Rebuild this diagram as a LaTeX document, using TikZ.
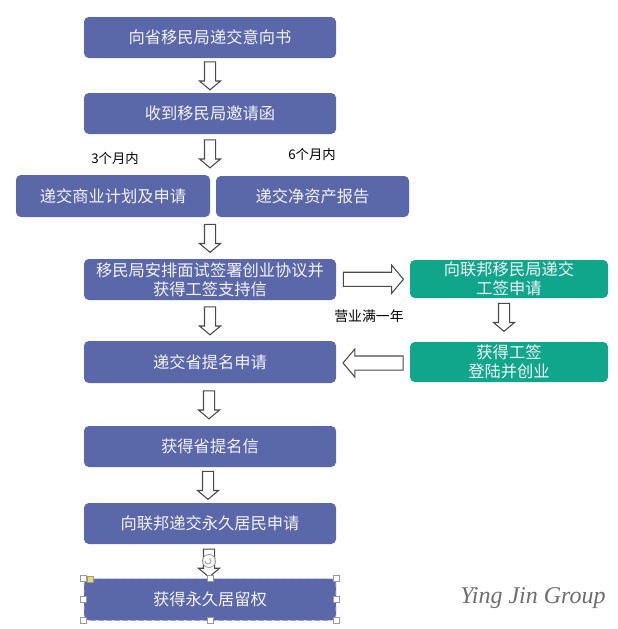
\documentclass[tikz,border=0pt]{standalone}
\usepackage{fontspec}
\setmainfont{Noto Sans CJK SC}
\newfontfamily\logofont{Liberation Serif}
\usetikzlibrary{shapes.arrows,calc}
\definecolor{boxblue}{HTML}{5A67A8}
\definecolor{boxgreen}{HTML}{0FA68B}
\definecolor{arrowline}{HTML}{4A4A4A}
\definecolor{handleline}{HTML}{9A9A9A}
\definecolor{handleyellow}{HTML}{EFD95A}
\definecolor{logogray}{HTML}{6E6E70}
\tikzset{
  x=0.75pt,y=-0.75pt,
  flowbox/.style n args={3}{draw=none,fill=#3,rounded corners=3.6pt,inner sep=0pt,
    minimum width=#1*0.75pt,minimum height=#2*0.75pt,text=white!93!boxblue,
    font=\fontsize{12.2pt}{14.3pt}\selectfont,align=center},
  blockarrow/.style={single arrow,draw=arrowline,fill=white,line width=0.8pt,inner sep=0pt,
    text height=10*0.75pt,text depth=0pt,text width=0pt,
    single arrow head extend=5*0.75pt,single arrow tip angle=100,
    anchor=center},
  downarrow/.style={blockarrow,rotate=-90,minimum height=28*0.75pt},
  sidearrow/.style={blockarrow,text height=13*0.75pt,single arrow head extend=7*0.75pt,minimum height=60*0.75pt},
  note/.style={inner sep=0pt,text=black,font=\fontsize{10pt}{12pt}\selectfont},
  handle/.style={draw=handleline,fill=white,line width=0.5pt,inner sep=0pt,minimum size=6*0.75pt},
}
\begin{document}
\begin{tikzpicture}
\useasboundingbox (0,0) rectangle (618,629);
% boxes
\node[flowbox={252}{41}{boxblue}] (n1) at (210,37.5) {向省移民局递交意向书};
\node[flowbox={252}{41}{boxblue}] (n2) at (210,113.5) {收到移民局邀请函};
\node[flowbox={194}{42}{boxblue}] (n3) at (113,196) {递交商业计划及申请};
\node[flowbox={193}{41}{boxblue}] (n4) at (312.5,196.5) {递交净资产报告};
\node[flowbox={252}{41}{boxblue}] (n5) at (210,279.5) {移民局安排面试签署创业协议并\\获得工签支持信};
\node[flowbox={198}{38}{boxgreen}] (n6) at (509,279) {向联邦移民局递交\\工签申请};
\node[flowbox={198}{40}{boxgreen}] (n7) at (509,362) {获得工签\\登陆并创业};
\node[flowbox={252}{42}{boxblue}] (n8) at (210,362) {递交省提名申请};
\node[flowbox={252}{41}{boxblue}] (n9) at (210,446.5) {获得省提名信};
\node[flowbox={252}{41}{boxblue}] (n10) at (210,523.5) {向联邦递交永久居民申请};
\node[flowbox={252}{42}{boxblue},draw=white!70!boxblue,dashed,line width=0.4pt] (n11) at (210,599.5) {获得永久居留权};
% block arrows, each placed between the boxes it joins
\node[downarrow] (a1) at ($(n1.south)!0.5!(n2.north)+(0,-2)$) {};
\node[downarrow] (a2) at ($(n2.south)!0.5!(n2.south |- n3.north)+(0,-3)$) {};
\node[downarrow] (a3) at ($(n2.south |- n3.south)!0.5!(n5.north)+(0,-2)$) {};
\node[downarrow] (a4) at ($(n5.south)!0.5!(n8.north)+(0,-2)$) {};
\node[downarrow] (a5) at ($(n8.south)!0.5!(n9.north)+(-1,-2)$) {};
\node[downarrow] (a6) at ($(n9.south)!0.5!(n10.north)+(-2,-2)$) {};
\node[downarrow] (a7) at ($(n10.south)!0.5!(n11.north)+(-1,-0.5)$) {};
\node[sidearrow] (a8) at ($(n5.east)!0.5!(n6.west)+(-2.5,0)$) {};
\node[sidearrow,rotate=180] (a9) at ($(n8.east)!0.5!(n7.west)+(3,1)$) {};
\node[downarrow] (a10) at ($(n6.south)!0.5!(n7.north)+(-5,-5)$) {};
% notes
\node[note] (t1) at (115,158) {3个月内};
\node[note] (t2) at (312,154) {6个月内};
\node[note,font=\fontsize{10.4pt}{12pt}\selectfont] (t3) at (369,316) {营业满一年};
% selection handles of the last box
\node[handle] (h1) at (n11.north west) {};
\node[handle] (h2) at (n11.north) {};
\node[handle] (h3) at (n11.north east) {};
\node[handle] (h4) at (n11.west) {};
\node[handle] (h5) at (n11.east) {};
\node[handle] (h6) at (n11.south west) {};
\node[handle] (h7) at (n11.south) {};
\node[handle] (h8) at (n11.south east) {};
\node[draw=handleline,fill=handleyellow,line width=0.4pt,inner sep=0pt,minimum size=6*0.75pt] (h9) at (90,579) {};
\node[circle,draw=handleline,fill=white,fill opacity=0.85,line width=0.6pt,inner sep=0pt,minimum size=13*0.75pt] (h10) at (209,561) {};
\draw[handleline,line width=0.6pt] (205,561) arc[start angle=180,end angle=-60,radius=3];
% logo
\node[inner sep=0pt,text=logogray] (logo) at (533,598)
  {\logofont\itshape\fontsize{18pt}{20pt}\selectfont Ying Jin Group};
\end{tikzpicture}
\end{document}
